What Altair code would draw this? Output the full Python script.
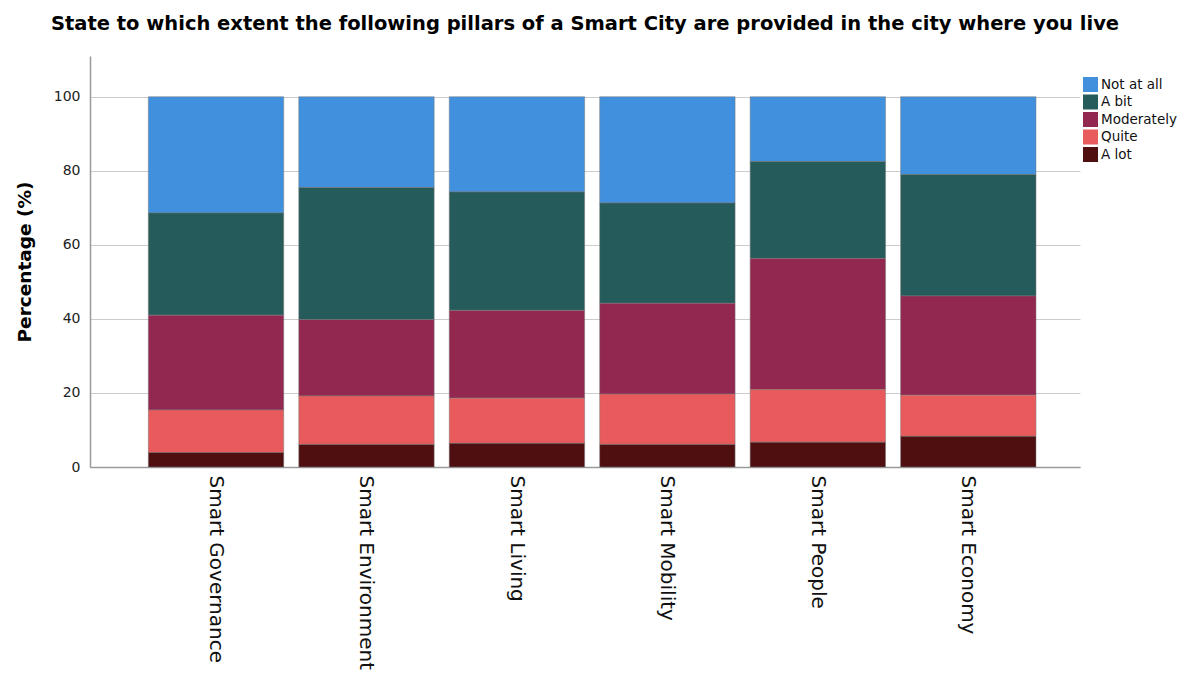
import altair as alt
import pandas as pd

categories = ["Smart Governance", "Smart Environment", "Smart Living",
              "Smart Mobility", "Smart People", "Smart Economy"]
levels = ["Not at all", "A bit", "Moderately", "Quite", "A lot"]
colors = ["#4190de", "#265b5c", "#922750", "#e85a5b", "#4f0e10"]

a_lot      = [3.9, 6.1, 6.4, 6.1, 6.7, 8.3]
quite      = [11.5, 13.1, 12.2, 13.6, 14.2, 11.1]
moderately = [25.6, 20.6, 23.7, 24.5, 35.4, 26.8]
a_bit      = [27.6, 35.7, 32.0, 27.1, 26.2, 32.8]
not_at_all = [31.4, 24.5, 25.7, 28.7, 17.5, 21.0]

series = {"Not at all": not_at_all, "A bit": a_bit, "Moderately": moderately,
          "Quite": quite, "A lot": a_lot}
stack_rank = {"A lot": 0, "Quite": 1, "Moderately": 2, "A bit": 3, "Not at all": 4}

rows = []
for lvl, vals in series.items():
    for cat, v in zip(categories, vals):
        rows.append({"Pillar": cat, "Level": lvl, "Value": v, "rank": stack_rank[lvl]})
df = pd.DataFrame(rows)

FONT = "DejaVu Sans"

chart = alt.Chart(df).mark_bar(stroke="#7a7a7a", strokeWidth=0.5).encode(
    x=alt.X("Pillar:N", sort=categories,
            scale=alt.Scale(paddingInner=0.1, paddingOuter=0.34, align=0.57),
            axis=alt.Axis(title=None, labelAngle=90, labelAlign="left",
                          labelBaseline="middle", labelPadding=8, ticks=False,
                          labelFontSize=20, labelColor="#111111", labelFont=FONT,
                          domainColor="#9a9a9a", domainWidth=1.5, labelLimit=400)),
    y=alt.Y("Value:Q", stack="zero",
            scale=alt.Scale(domain=[0, 111], nice=False),
            axis=alt.Axis(title="Percentage (%)", values=[0, 20, 40, 60, 80, 100],
                          ticks=False, labelPadding=10, labelFontSize=14,
                          labelColor="#222222", labelFont=FONT,
                          titleFont=FONT, titleFontSize=18.5, titleFontWeight="bold",
                          titleColor="#000000", titlePadding=19,
                          domainColor="#9a9a9a", domainWidth=1.5,
                          gridColor="#cccccc", gridWidth=1.2)),
    color=alt.Color("Level:N", sort=levels,
                    scale=alt.Scale(domain=levels, range=colors),
                    legend=alt.Legend(title=None, orient="none", legendX=993, legendY=21,
                                      symbolType="square", symbolSize=225,
                                      symbolStrokeWidth=0, labelFontSize=13.5,
                                      labelFont=FONT, labelColor="#111111",
                                      rowPadding=2.5, labelOffset=3)),
    order=alt.Order("rank:Q", sort="ascending"),
).properties(
    width=990, height=411,
    title=alt.TitleParams("State to which extent the following pillars of a Smart City are provided in the city where you live",
                          font=FONT, fontSize=19.5, fontWeight="bold", color="#000000",
                          anchor="middle", offset=22),
    autosize=alt.AutoSizeParams(type="none"),
    padding={"left": 82, "top": 48, "right": 100, "bottom": 204},
).configure_view(stroke=None)

chart.save("out.html", embed_options={"renderer": "svg", "actions": False})
